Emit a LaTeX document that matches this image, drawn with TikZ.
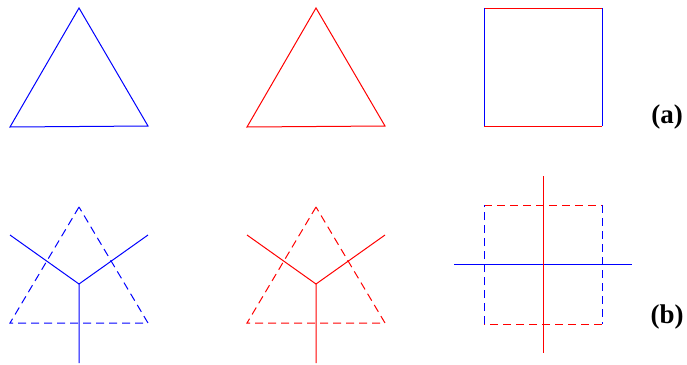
\documentclass[tikz,border=0pt]{standalone}
\usepackage{fontspec}
\setmainfont{Liberation Serif}
\begin{document}
\begin{tikzpicture}[x=1pt,y=-1pt,
  edge/.style={line width=1pt},
  dsh/.style={line width=1pt,dash pattern=on 8pt off 5pt},
  lbl/.style={font=\fontsize{27}{32}\selectfont\bfseries,inner sep=0pt}]
\useasboundingbox (0,0) rectangle (687,364);
% (a) row
\coordinate (a1t) at (79,8); \coordinate (a1l) at (10,127); \coordinate (a1r) at (148,126);
\draw[edge,blue] (a1t) -- (a1l) -- (a1r) -- cycle;
\coordinate (a2t) at (316,8); \coordinate (a2l) at (247,127); \coordinate (a2r) at (385,126);
\draw[edge,red] (a2t) -- (a2l) -- (a2r) -- cycle;
\coordinate (s1a) at (484,8); \coordinate (s1b) at (602,8);
\coordinate (s1c) at (602,126); \coordinate (s1d) at (484,126);
\draw[edge,red] (s1a) -- (s1b);
\draw[edge,blue] (s1b) -- (s1c);
\draw[edge,red] (s1c) -- (s1d);
\draw[edge,blue] (s1d) -- (s1a);
\node[lbl] (la) at (667,117) {(a)};
% (b) row
\coordinate (b1t) at (79,207); \coordinate (b1l) at (10,323); \coordinate (b1r) at (148,323);
\coordinate (b1c) at (79,284);
\coordinate (b1p) at (10,235); \coordinate (b1q) at (148,235); \coordinate (b1d) at (79,363);
\draw[dsh,blue] (b1t) -- (b1l) -- (b1r) -- cycle;
\draw[edge,blue] (b1p) -- (b1c) -- (b1q) (b1c) -- (b1d);
\coordinate (b2t) at (316,207); \coordinate (b2l) at (247,323); \coordinate (b2r) at (385,323);
\coordinate (b2c) at (316,284);
\coordinate (b2p) at (247,235); \coordinate (b2q) at (385,235); \coordinate (b2d) at (316,363);
\draw[dsh,red] (b2t) -- (b2l) -- (b2r) -- cycle;
\draw[edge,red] (b2p) -- (b2c) -- (b2q) (b2c) -- (b2d);
\coordinate (s2a) at (484,205); \coordinate (s2b) at (602,205);
\coordinate (s2c) at (602,324); \coordinate (s2d) at (484,324);
\draw[dsh,red] (s2a) -- (s2b);
\draw[dsh,blue] (s2b) -- (s2c);
\draw[dsh,red] (s2c) -- (s2d);
\draw[dsh,blue] (s2d) -- (s2a);
\coordinate (vt) at (543,176); \coordinate (vb) at (543,353);
\coordinate (hl) at (454,264); \coordinate (hr) at (632,264);
\draw[edge,blue] (hl) -- (hr);
\draw[edge,red] (vt) -- (vb);
\node[lbl] (lb) at (667,317) {(b)};
\end{tikzpicture}
\end{document}
